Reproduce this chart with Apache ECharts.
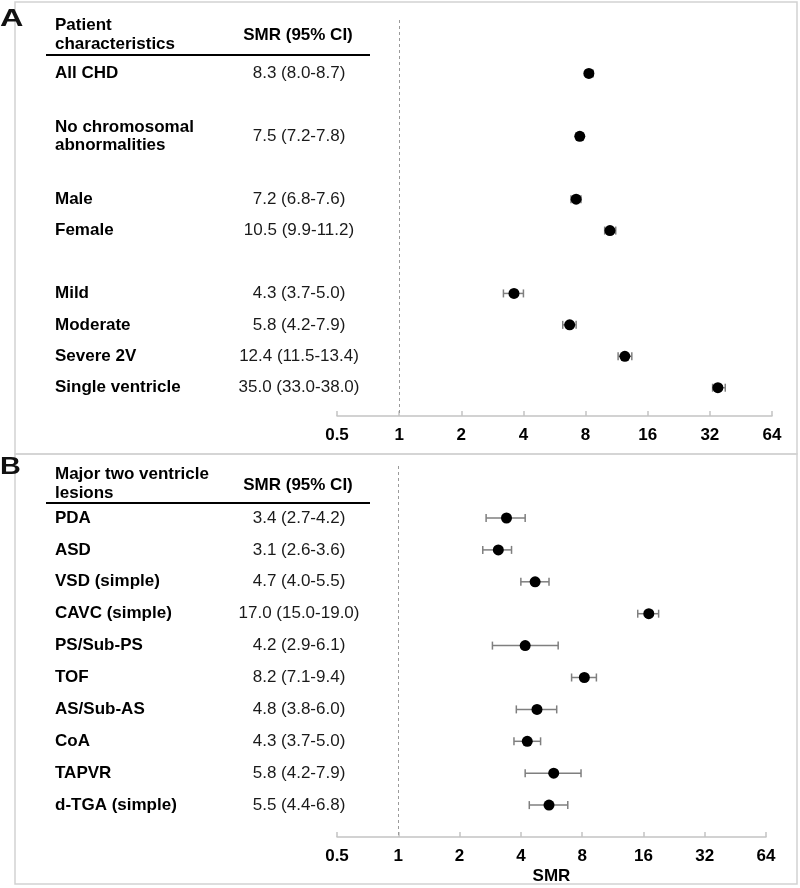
<!DOCTYPE html>
<html>
<head>
<meta charset="utf-8">
<script src="https://cdn.jsdelivr.net/npm/echarts@6/dist/echarts.min.js"></script>
<style>html,body{margin:0;padding:0;background:#fff;}#c{width:800px;height:888px;}</style>
</head>
<body>
<div id="c"></div>
<script>
// ---------- Data ----------
// Panel A: row slots ('' = spacer row)
const catsA = ['All CHD', '', 'No chromosomal\nabnormalities', '', 'Male', 'Female', '', 'Mild', 'Moderate', 'Severe 2V', 'Single ventricle'];
const smrTextA = ['8.3 (8.0-8.7)', '', '7.5 (7.2-7.8)', '', '7.2 (6.8-7.6)', '10.5 (9.9-11.2)', '', '4.3 (3.7-5.0)', '5.8 (4.2-7.9)', '12.4 (11.5-13.4)', '35.0 (33.0-38.0)'];
// plotted values as drawn in the figure
const smrA  = [8.3, null, 7.5, null, 7.2, 10.5, null, 3.6, 6.7, 12.4, 35.0];
const lowA  = [8.0, null, 7.2, null, 6.8, 9.9,  null, 3.2, 6.2, 11.5, 33.0];
const highA = [8.7, null, 7.8, null, 7.6, 11.2, null, 4.0, 7.2, 13.4, 38.0];

// Panel B
const catsB  = ['PDA', 'ASD', 'VSD (simple)', 'CAVC (simple)', 'PS/Sub-PS', 'TOF', 'AS/Sub-AS', 'CoA', 'TAPVR', 'd-TGA (simple)'];
const smrB   = [3.4, 3.1, 4.7, 17.0, 4.2, 8.2, 4.8, 4.3, 5.8, 5.5];
const lowB   = [2.7, 2.6, 4.0, 15.0, 2.9, 7.1, 3.8, 3.7, 4.2, 4.4];
const highB  = [4.2, 3.6, 5.5, 19.0, 6.1, 9.4, 6.0, 5.0, 7.9, 6.8];
const smrTextB = smrB.map((v, i) => v.toFixed(1) + ' (' + lowB[i].toFixed(1) + '-' + highB[i].toFixed(1) + ')');

const xTicks = [0.5, 1, 2, 4, 8, 16, 32, 64];
const headerA = ['Patient\ncharacteristics', 'SMR (95% CI)'];
const headerB = ['Major two ventricle\nlesions', 'SMR (95% CI)'];
const xName = 'SMR';

// ---------- Chart ----------
const FONT = '"Liberation Sans", Arial, Helvetica, sans-serif';
const chart = echarts.init(document.getElementById('c'), null, {renderer: 'canvas'});

function pts(smr) { return smr.map((v, i) => v == null ? null : [v, i]).filter(d => d); }
function bars(lo, hi) { return lo.map((v, i) => v == null ? null : [v, hi[i], i]).filter(d => d); }
function tableRows(names, texts) {
  const out = [];
  names.forEach((n, i) => { if (n) out.push([i, n, texts[i]]); });
  return out;
}

const errRender = function (params, api) {
  const y = api.value(2);
  const p1 = api.coord([api.value(0), y]);
  const p2 = api.coord([api.value(1), y]);
  const h = 4;
  const st = {stroke: '#7f7f7f', lineWidth: 1.5};
  return {type: 'group', children: [
    {type: 'line', shape: {x1: p1[0], y1: p1[1], x2: p2[0], y2: p2[1]}, style: st},
    {type: 'line', shape: {x1: p1[0], y1: p1[1] - h, x2: p1[0], y2: p1[1] + h}, style: st},
    {type: 'line', shape: {x1: p2[0], y1: p2[1] - h, x2: p2[0], y2: p2[1] + h}, style: st}
  ]};
};
const tableRender = function (params, api) {
  const row = api.value(0);
  const pName = api.coord([55, row]);
  const pVal = api.coord([299, row]);
  return {type: 'group', children: [
    {type: 'text', x: pName[0], y: pName[1], style: {text: api.value(1), fill: '#000', font: 'bold 17px ' + FONT, align: 'left', verticalAlign: 'middle', lineHeight: 18}},
    {type: 'text', x: pVal[0], y: pVal[1], style: {text: api.value(2), fill: '#1a1a1a', font: '17px ' + FONT, align: 'center', verticalAlign: 'middle'}}
  ]};
};

const xAxisCommon = (gridIndex, name) => ({
  type: 'log', logBase: 2, min: 0.5, max: 64, splitNumber: 7, gridIndex, position: 'bottom',
  axisLine: {onZero: false, lineStyle: {color: '#c3c3c3', width: 1.5}},
  axisTick: {inside: true, length: 5, lineStyle: {color: '#c3c3c3', width: 1.5}},
  splitLine: {show: false},
  axisLabel: {color: '#000', fontWeight: 'bold', fontSize: 17, fontFamily: FONT, margin: 11,
    formatter: v => { const r = xTicks.find(t => Math.abs(t - v) < 1e-6); return r != null ? String(r) : ''; }},
  name: name || '', nameLocation: 'middle', nameGap: 31,
  nameTextStyle: {color: '#000', fontWeight: 'bold', fontSize: 17, fontFamily: FONT}
});
const hiddenX = gridIndex => ({type: 'value', min: 0, max: 400, gridIndex, show: false});
const yAx = (gridIndex, min, max) => ({type: 'value', inverse: true, min, max, gridIndex, show: false});

const dashed = {silent: true, symbol: ['none', 'none'], label: {show: false},
  lineStyle: {type: [3, 3], color: '#9a9a9a', width: 1}, data: [{xAxis: 1}]};

const option = {
  animation: false,
  backgroundColor: '#fff',
  grid: [
    {left: 337, right: 28, top: 20, height: 396},   // A plot
    {left: 0, width: 400, top: 20, height: 396},    // A table
    {left: 337, right: 34, top: 466, height: 371},  // B plot
    {left: 0, width: 400, top: 466, height: 371}    // B table
  ],
  xAxis: [xAxisCommon(0), hiddenX(1), xAxisCommon(2, xName), hiddenX(3)],
  yAxis: [yAx(0, -1.7, 10.9), yAx(1, -1.7, 10.9), yAx(2, -1.63, 10), yAx(3, -1.63, 10)],
  series: [
    {type: 'custom', xAxisIndex: 0, yAxisIndex: 0, renderItem: errRender, data: bars(lowA, highA), encode: {x: [0, 1], y: 2}, z: 2},
    {type: 'scatter', xAxisIndex: 0, yAxisIndex: 0, data: pts(smrA), symbolSize: 11, itemStyle: {color: '#000', opacity: 1}, z: 3, markLine: dashed},
    {type: 'custom', xAxisIndex: 1, yAxisIndex: 1, renderItem: tableRender, data: tableRows(catsA, smrTextA), encode: {x: -1, y: 0}},
    {type: 'custom', xAxisIndex: 2, yAxisIndex: 2, renderItem: errRender, data: bars(lowB, highB), encode: {x: [0, 1], y: 2}, z: 2},
    {type: 'scatter', xAxisIndex: 2, yAxisIndex: 2, data: pts(smrB), symbolSize: 11, itemStyle: {color: '#000', opacity: 1}, z: 3, markLine: dashed},
    {type: 'custom', xAxisIndex: 3, yAxisIndex: 3, renderItem: tableRender, data: tableRows(catsB, smrTextB), encode: {x: -1, y: 0}}
  ],
  graphic: [
    {type: 'rect', shape: {x: 15, y: 2, width: 782, height: 452}, style: {fill: 'none', stroke: '#d2d2d2', lineWidth: 1.5}, silent: true},
    {type: 'rect', shape: {x: 15, y: 454, width: 782, height: 430}, style: {fill: 'none', stroke: '#d2d2d2', lineWidth: 1.5}, silent: true},
    {type: 'text', x: 0, y: 7, scaleX: 1.35, style: {text: 'A', font: 'bold 24px ' + FONT, fill: '#111'}, z: 10},
    {type: 'text', x: 0, y: 455, scaleX: 1.2, style: {text: 'B', font: 'bold 24px ' + FONT, fill: '#111'}, z: 10},
    {type: 'text', x: 55, y: 35, style: {text: headerA[0], font: 'bold 17px ' + FONT, fill: '#000', verticalAlign: 'middle', lineHeight: 19}},
    {type: 'text', x: 298, y: 35, style: {text: headerA[1], font: 'bold 17px ' + FONT, fill: '#000', align: 'center', verticalAlign: 'middle'}},
    {type: 'line', shape: {x1: 46, y1: 55, x2: 370, y2: 55}, style: {stroke: '#000', lineWidth: 2}},
    {type: 'text', x: 55, y: 484, style: {text: headerB[0], font: 'bold 17px ' + FONT, fill: '#000', verticalAlign: 'middle', lineHeight: 19}},
    {type: 'text', x: 298, y: 485, style: {text: headerB[1], font: 'bold 17px ' + FONT, fill: '#000', align: 'center', verticalAlign: 'middle'}},
    {type: 'line', shape: {x1: 46, y1: 503, x2: 370, y2: 503}, style: {stroke: '#000', lineWidth: 2}}
  ]
};
chart.setOption(option);
</script>
</body>
</html>
